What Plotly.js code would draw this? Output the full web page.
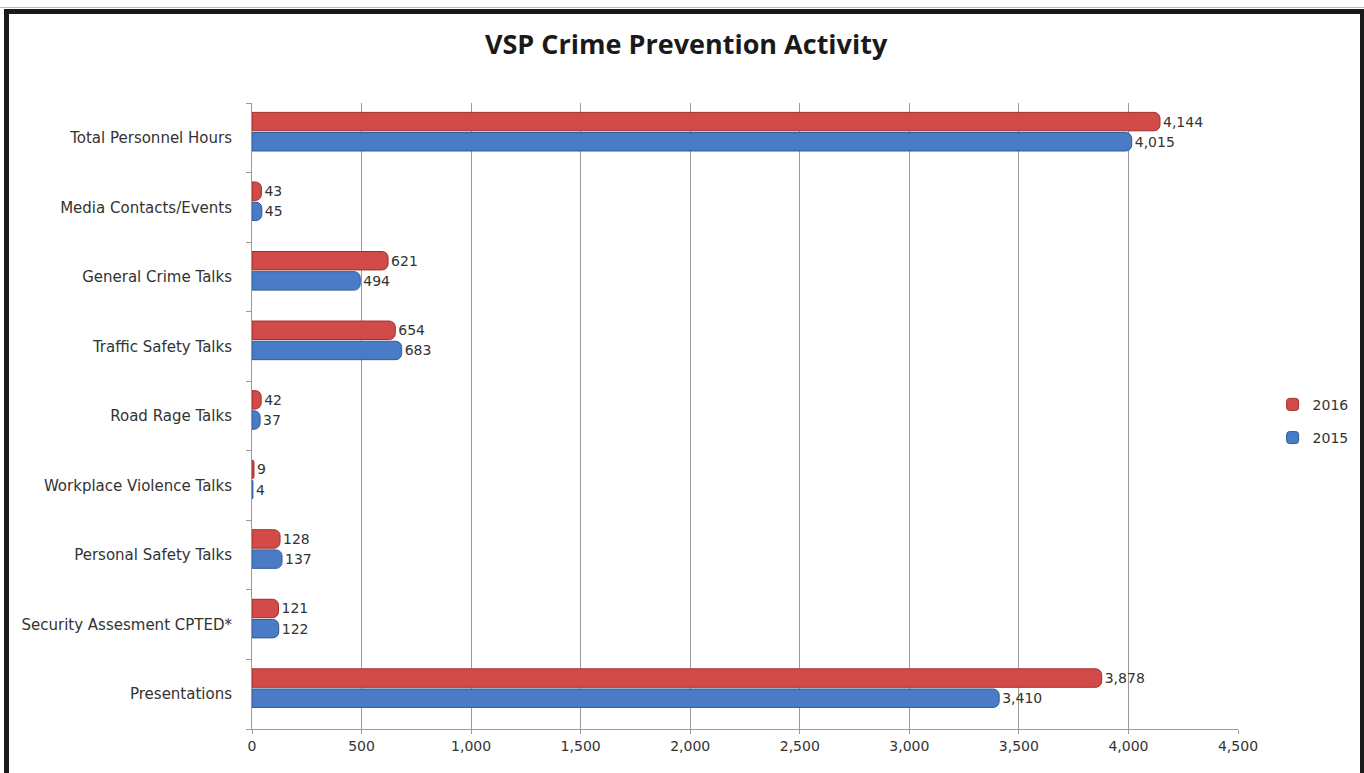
<!DOCTYPE html>
<html>
<head>
<meta charset="utf-8">
<script src="https://cdn.plot.ly/plotly-3.0.1.min.js"></script>
<style>
  html, body { margin: 0; padding: 0; background: #fff; }
  #wrap { position: relative; width: 1364px; height: 773px; overflow: hidden; }
  #chart { position: absolute; left: 0; top: 0; width: 1364px; height: 773px; }
  #frame { position: absolute; left: 4px; top: 9px; width: 1351px; height: 800px; border: 5px solid #1a1a1a; pointer-events: none; }
  #topline { position: absolute; left: 0; top: 7px; width: 1364px; height: 1px; background: #bbb; pointer-events: none; }
</style>
</head>
<body>
<div id="wrap">
  <div id="chart"></div>
  <div id="topline"></div>
  <div id="frame"></div>
</div>
<script>
const categories = [
  "Presentations",
  "Security Assesment CPTED*",
  "Personal Safety Talks",
  "Workplace Violence Talks",
  "Road Rage Talks",
  "Traffic Safety Talks",
  "General Crime Talks",
  "Media Contacts/Events",
  "Total Personnel Hours"
];
const values2015 = [3410, 122, 137, 4, 37, 683, 494, 45, 4015];
const values2016 = [3878, 121, 128, 9, 42, 654, 621, 43, 4144];
const xTickVals = [0, 500, 1000, 1500, 2000, 2500, 3000, 3500, 4000, 4500];
const xTickText = ["0", "500", "1,000", "1,500", "2,000", "2,500", "3,000", "3,500", "4,000", "4,500"];

const baseFont = "DejaVu Sans, sans-serif";

const traces = [
  {
    type: "bar", orientation: "h", name: "2015", legendgroup: "g2015", legendrank: 2,
    y: categories, x: values2015,
    offset: -0.19, width: 0.265,
    marker: { color: "#4a7cc6", line: { color: "#2f5a97", width: 1 }, cornerradius: 6 },
    text: values2015.map(v => v.toLocaleString("en-US")),
    textposition: "outside", cliponaxis: false,
    textfont: { family: baseFont, size: 14, color: "#333" },
    hoverinfo: "x+name"
  },
  {
    type: "bar", orientation: "h", name: "2016", legendgroup: "g2016", legendrank: 1,
    y: categories, x: values2016,
    offset: 0.1, width: 0.265,
    marker: { color: "#d24b48", line: { color: "#9e2e2c", width: 1 }, cornerradius: 6 },
    text: values2016.map(v => v.toLocaleString("en-US")),
    textposition: "outside", cliponaxis: false,
    textfont: { family: baseFont, size: 14, color: "#333" },
    hoverinfo: "x+name"
  }
];

const layout = {
  width: 1364, height: 773,
  paper_bgcolor: "#fff", plot_bgcolor: "#fff",
  margin: { l: 252, r: 126, t: 103, b: 44 },
  barmode: "group",
  title: {
    text: "<b>VSP Crime Prevention Activity</b>",
    x: 0.503, xanchor: "center", y: 0.943, yanchor: "middle",
    font: { family: "Open Sans, sans-serif", size: 27, color: "#1a1a1a" }
  },
  xaxis: {
    range: [0, 4500],
    tickvals: xTickVals, ticktext: xTickText,
    showgrid: true, gridcolor: "#9a9a9a", gridwidth: 1,
    zeroline: false,
    showline: true, linecolor: "#9a9a9a", linewidth: 1,
    ticks: "outside", ticklen: 4, tickcolor: "#9a9a9a",
    tickfont: { family: baseFont, size: 14, color: "#333" }
  },
  yaxis: {
    type: "category",
    showgrid: false, zeroline: false,
    showline: true, linecolor: "#9a9a9a", linewidth: 1,
    ticks: "outside", ticklen: 5, tickcolor: "#9a9a9a", tickson: "boundaries",
    ticklabelstandoff: 16,
    tickfont: { family: baseFont, size: 15, color: "#333" }
  },
  legend: {
    xref: "container", yref: "container",
    x: 0.933, xanchor: "left", y: 0.455, yanchor: "middle",
    traceorder: "grouped",
    font: { family: baseFont, size: 14, color: "#333" },
    itemwidth: 30, tracegroupgap: 12
  },
  showlegend: true
};

Plotly.newPlot("chart", traces, layout, { displayModeBar: false, staticPlot: true });
</script>
</body>
</html>
